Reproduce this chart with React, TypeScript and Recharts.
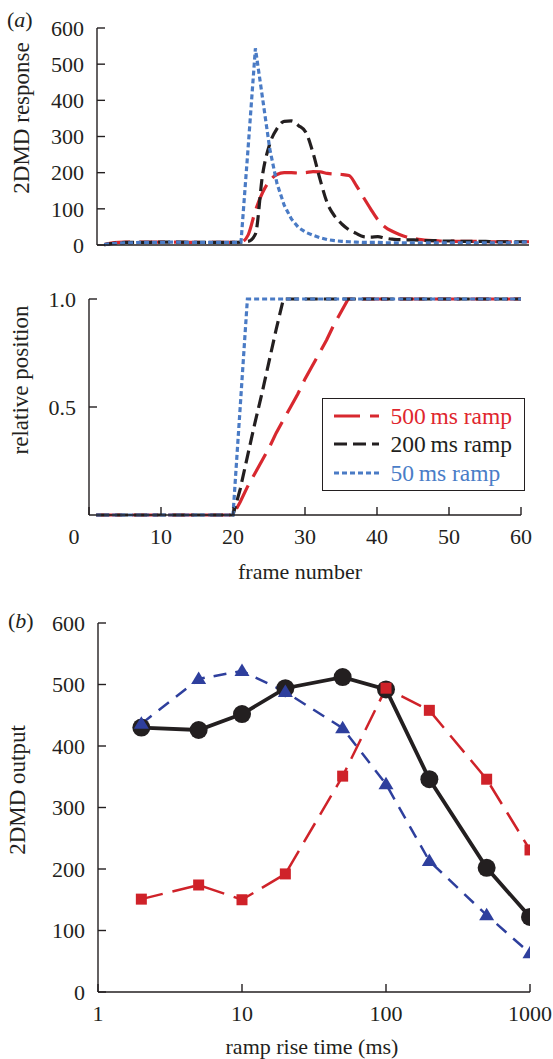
import React from 'react';
import { LineChart, Line, XAxis, YAxis, Legend, Label } from 'recharts';

// ---------- data ----------
const frames = [1, 2, 3, 4, 5, 6, 7, 8, 9, 10, 11, 12, 13, 14, 15, 16, 17, 18, 19, 20,
  21, 22, 23, 24, 25, 26, 27, 28, 29, 30, 31, 32, 33, 34, 35, 36, 37, 38, 39, 40,
  41, 42, 43, 44, 45, 46, 47, 48, 49, 50, 51, 52, 53, 54, 55, 56, 57, 58, 59, 60];

// 2DMD response (panel a, top)
const response500 = [1, 5, 7, 8, 8, 8, 8, 8, 8, 8, 8, 7, 7, 7, 7, 7, 7, 7, 7, 8,
  28, 95, 145, 178, 195, 200, 200, 199, 200, 203, 202, 198, 196, 195, 192, 165, 132, 100, 70, 50,
  38, 29, 22, 18, 15, 13, 12, 11, 11, 10, 10, 10, 10, 9, 9, 9, 9, 9, 9, 9];
const response200 = [1, 4, 6, 7, 7, 7, 7, 8, 8, 8, 8, 8, 7, 7, 7, 7, 7, 7, 7, 8,
  10, 30, 195, 280, 322, 342, 343, 330, 312, 255, 180, 115, 80, 58, 42, 32, 23, 22, 23, 19,
  16, 15, 14, 14, 13, 12, 12, 11, 11, 10, 10, 10, 10, 10, 9, 9, 9, 9, 9, 9];
const response50 = [1, 4, 5, 6, 6, 7, 7, 7, 7, 8, 8, 7, 7, 7, 7, 7, 7, 7, 7, 8,
  272, 544, 405, 265, 170, 110, 72, 48, 35, 27, 20, 15, 12, 10, 9, 8, 7, 7, 7, 6,
  6, 6, 6, 6, 6, 6, 6, 6, 6, 6, 6, 6, 6, 6, 6, 6, 6, 7, 8, 9];

// relative position (panel a, bottom)
const position500 = [0, 0, 0, 0, 0, 0, 0, 0, 0, 0, 0, 0, 0, 0, 0, 0, 0, 0, 0, 0,
  0.06, 0.13, 0.19, 0.25, 0.31, 0.38, 0.44, 0.5, 0.56, 0.63, 0.69, 0.75, 0.81, 0.88, 0.94, 1, 1, 1, 1, 1,
  1, 1, 1, 1, 1, 1, 1, 1, 1, 1, 1, 1, 1, 1, 1, 1, 1, 1, 1, 1];
const position200 = [0, 0, 0, 0, 0, 0, 0, 0, 0, 0, 0, 0, 0, 0, 0, 0, 0, 0, 0, 0,
  0.12, 0.27, 0.42, 0.56, 0.71, 0.86, 1, 1, 1, 1, 1, 1, 1, 1, 1, 1, 1, 1, 1, 1,
  1, 1, 1, 1, 1, 1, 1, 1, 1, 1, 1, 1, 1, 1, 1, 1, 1, 1, 1, 1];
const position50 = [0, 0, 0, 0, 0, 0, 0, 0, 0, 0, 0, 0, 0, 0, 0, 0, 0, 0, 0, 0,
  0.5, 1, 1, 1, 1, 1, 1, 1, 1, 1, 1, 1, 1, 1, 1, 1, 1, 1, 1, 1,
  1, 1, 1, 1, 1, 1, 1, 1, 1, 1, 1, 1, 1, 1, 1, 1, 1, 1, 1, 1];

const legendNames = ['500\u2009ms ramp', '200\u2009ms ramp', '50\u2009ms ramp'];

// panel b
const rampTimes = [2, 5, 10, 20, 50, 100, 200, 500, 1000];
const outputBlack = [430, 426, 452, 494, 512, 492, 346, 202, 122];
const outputRed = [151, 174, 150, 192, 351, 494, 458, 346, 231];
const outputBlue = [436, 509, 522, 488, 429, 338, 213, 125, 63];

const responseTicks = [0, 100, 200, 300, 400, 500, 600];
const frameTicks = [0, 10, 20, 30, 40, 50, 60];
const positionTicks = [0.5, 1];
const rampTicks = [1, 10, 100, 1000];
const outputTicks = [0, 100, 200, 300, 400, 500, 600];

const responseData = frames.map((f, i) => ({
  frame: f, r500: response500[i], r200: response200[i], r50: response50[i],
}));
const positionData = frames.map((f, i) => ({
  frame: f, p500: position500[i], p200: position200[i], p50: position50[i],
}));
const outputData = rampTimes.map((t, i) => ({
  t, black: outputBlack[i], red: outputRed[i], blue: outputBlue[i],
}));

// ---------- styles ----------
const SERIF = '"Liberation Serif", "Times New Roman", Times, serif';
const INK = '#231f20';
const RED = '#d8282f';
const BLUE = '#4a7bc5';
const B_RED = '#cf2229';
const B_BLUE = '#2e3f9d';

const axisLineStyle = { stroke: INK, strokeWidth: 1.4 };
const tickText = { fill: INK, fontSize: 22, fontFamily: SERIF };

const POS_STYLE: Record<string, { color: string; dash: string; text: string }> = {
  p500: { color: RED, dash: '26 10', text: '#df262e' },
  p200: { color: INK, dash: '13 6', text: INK },
  p50: { color: BLUE, dash: '5 3', text: '#4a7dc7' },
};
const legendOrder = ['p500', 'p200', 'p50'];

const LegendBox = (props: any) => {
  const payload = [...(props.payload || [])].sort(
    (a: any, b: any) => legendOrder.indexOf(a.dataKey) - legendOrder.indexOf(b.dataKey)
  );
  return (
    <div style={{
      width: 203, height: 93, boxSizing: 'border-box', border: `1.5px solid ${INK}`,
      background: '#fff', paddingTop: 2.5,
    }}>
      {payload.map((entry: any) => {
        const st = POS_STYLE[entry.dataKey];
        return (
          <div key={entry.dataKey} style={{ display: 'flex', alignItems: 'center', height: 28.5 }}>
            <svg width={45} height={8} style={{ marginLeft: 10.5, marginRight: 12, flex: 'none' }}>
              <line x1={0} y1={4} x2={45} y2={4} stroke={st.color} strokeWidth={3.2} strokeDasharray={st.dash} />
            </svg>
            <span style={{ fontFamily: SERIF, fontSize: 23.5, color: st.text, lineHeight: '28.5px', whiteSpace: 'nowrap' }}>
              {entry.value}
            </span>
          </div>
        );
      })}
    </div>
  );
};

const FrameTick = (props: any) => {
  const { x, y, payload } = props;
  const shift = payload.value === 0 ? -15 : 0;
  return (
    <text x={x + shift} y={y} dy="0.71em" textAnchor="middle" fill={INK} fontSize={22} fontFamily={SERIF}>
      {payload.value}
    </text>
  );
};

const CircleDot = (props: any) => {
  const { cx, cy, index } = props;
  return <circle key={`c-${index}`} cx={cx} cy={cy} r={9} fill={INK} />;
};
const SquareDot = (props: any) => {
  const { cx, cy, index } = props;
  return <rect key={`s-${index}`} x={cx - 5.5} y={cy - 5.5} width={11} height={11} fill={B_RED} />;
};
const TriangleDot = (props: any) => {
  const { cx, cy, index } = props;
  return (
    <polygon key={`t-${index}`} points={`${cx},${cy - 7.5} ${cx - 7.5},${cy + 5} ${cx + 7.5},${cy + 5}`} fill={B_BLUE} />
  );
};

export default function App() {
  return (
    <div style={{ position: 'absolute', left: 0, top: 0, width: 553, height: 1059, background: '#fff' }}>
      {/* panel (a) top: 2DMD response */}
      <div style={{ position: 'absolute', left: 0, top: 0 }}>
        <LineChart width={553} height={262} data={responseData} margin={{ top: 28, right: 24, bottom: 0, left: 0 }}>
          <XAxis dataKey="frame" type="number" domain={[0, 60]} ticks={frameTicks} tick={false}
            tickSize={-8} height={17} axisLine={axisLineStyle} tickLine={axisLineStyle} />
          <YAxis type="number" domain={[0, 600]} ticks={responseTicks} interval={0} width={97}
            tickSize={-8} tickMargin={21} tick={tickText} axisLine={axisLineStyle} tickLine={axisLineStyle}>
            <Label content={() => (
              <g>
                <text x={7} y={27} fontFamily={SERIF} fontSize={22} fill={INK}>
                  (<tspan fontStyle="italic">a</tspan>)
                </text>
                <text transform="translate(29,118) rotate(-90)" textAnchor="middle"
                  fontFamily={SERIF} fontSize={23} fill={INK}>2DMD response</text>
              </g>
            )} />
          </YAxis>
          <Line dataKey="r500" type="monotone" stroke={RED} strokeWidth={3.2} strokeDasharray="26 9"
            dot={false} isAnimationActive={false} />
          <Line dataKey="r200" type="monotone" stroke={INK} strokeWidth={3.2} strokeDasharray="12 6"
            dot={false} isAnimationActive={false} />
          <Line dataKey="r50" type="linear" stroke={BLUE} strokeWidth={3.2} strokeDasharray="5 3"
            dot={false} isAnimationActive={false} />
        </LineChart>
      </div>

      {/* panel (a) bottom: relative position */}
      <div style={{ position: 'absolute', left: 0, top: 260 }}>
        <LineChart width={553} height={330} data={positionData} margin={{ top: 39, right: 32, bottom: 0, left: 0 }}>
          <XAxis dataKey="frame" type="number" domain={[0, 60]} ticks={frameTicks} interval={0}
            tickSize={-8} tickMargin={21} height={75} tick={<FrameTick />}
            axisLine={axisLineStyle} tickLine={axisLineStyle}>
            <Label content={() => (
              <text x={300} y={319} textAnchor="middle" fontFamily={SERIF} fontSize={22} fill={INK}>frame number</text>
            )} />
          </XAxis>
          <YAxis type="number" domain={[0, 1]} ticks={positionTicks} interval={0} width={89}
            tickFormatter={(v: number) => v.toFixed(1)}
            tickSize={-8} tickMargin={21} tick={tickText} axisLine={axisLineStyle} tickLine={axisLineStyle}>
            <Label content={() => (
              <text transform="translate(28,120) rotate(-90)" textAnchor="middle"
                fontFamily={SERIF} fontSize={23} fill={INK}>relative position</text>
            )} />
          </YAxis>
          <Legend content={LegendBox} layout="vertical" align="center" verticalAlign="middle"
            wrapperStyle={{ left: 322, top: 138, width: 203, height: 93 }} />
          <Line dataKey="p500" name={legendNames[0]} type="linear" stroke={RED} strokeWidth={3.2}
            strokeDasharray="26 10" dot={false} isAnimationActive={false} />
          <Line dataKey="p200" name={legendNames[1]} type="linear" stroke={INK} strokeWidth={3.2}
            strokeDasharray="13 6" dot={false} isAnimationActive={false} />
          <Line dataKey="p50" name={legendNames[2]} type="linear" stroke={BLUE} strokeWidth={3.2}
            strokeDasharray="5 3" dot={false} isAnimationActive={false} />
        </LineChart>
      </div>

      {/* panel (b) */}
      <div style={{ position: 'absolute', left: 0, top: 590 }}>
        <LineChart width={553} height={469} data={outputData} margin={{ top: 33, right: 23, bottom: 0, left: 0 }}>
          <XAxis dataKey="t" type="number" scale="log" domain={[1, 1000]} allowDataOverflow ticks={rampTicks}
            interval={0} tickSize={-8} tickMargin={21} height={67} tick={tickText}
            axisLine={axisLineStyle} tickLine={axisLineStyle}>
            <Label content={() => (
              <text x={312} y={464} textAnchor="middle" fontFamily={SERIF} fontSize={22} fill={INK}>ramp rise time (ms)</text>
            )} />
          </XAxis>
          <YAxis type="number" domain={[0, 600]} ticks={outputTicks} interval={0} width={98}
            tickSize={-8} tickMargin={21} tick={tickText} axisLine={axisLineStyle} tickLine={axisLineStyle}>
            <Label content={() => (
              <g>
                <text x={8} y={38} fontFamily={SERIF} fontSize={22} fill={INK}>
                  (<tspan fontStyle="italic">b</tspan>)
                </text>
                <text transform="translate(25,200) rotate(-90)" textAnchor="middle"
                  fontFamily={SERIF} fontSize={23} fill={INK}>2DMD output</text>
              </g>
            )} />
          </YAxis>
          <Line dataKey="black" type="linear" stroke={INK} strokeWidth={3.8} dot={<CircleDot />}
            isAnimationActive={false} />
          <Line dataKey="blue" type="linear" stroke={B_BLUE} strokeWidth={2.5} strokeDasharray="13 9"
            dot={<TriangleDot />} isAnimationActive={false} />
          <Line dataKey="red" type="linear" stroke={B_RED} strokeWidth={2.5} strokeDasharray="22 10"
            dot={<SquareDot />} isAnimationActive={false} />
        </LineChart>
      </div>
    </div>
  );
}
